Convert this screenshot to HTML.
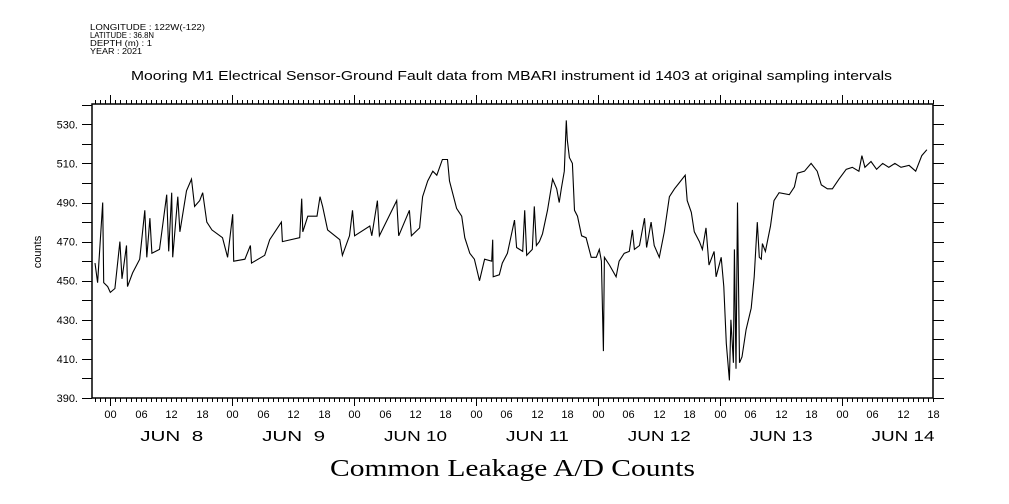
<!DOCTYPE html>
<html><head><meta charset="utf-8"><style>
html,body{margin:0;padding:0;background:#fff;}
svg{display:block;}
text{font-family:"Liberation Sans",sans-serif;fill:#000;}
</style></head><body>
<svg id="chart" width="1009" height="504" viewBox="0 0 1009 504" xmlns="http://www.w3.org/2000/svg">
<g font-size="8.5">
<text x="90" y="30" textLength="115" lengthAdjust="spacingAndGlyphs">LONGITUDE : 122W(-122)</text>
<text x="90" y="38" textLength="64" lengthAdjust="spacingAndGlyphs">LATITUDE : 36.8N</text>
<text x="90" y="46" textLength="62" lengthAdjust="spacingAndGlyphs">DEPTH (m) : 1</text>
<text x="90" y="54" textLength="52" lengthAdjust="spacingAndGlyphs">YEAR : 2021</text>
</g>
<text x="131" y="80" font-size="13" textLength="761" lengthAdjust="spacingAndGlyphs">Mooring M1 Electrical Sensor-Ground Fault data from MBARI instrument id 1403 at original sampling intervals</text>
<text transform="translate(41,252) rotate(-90)" font-size="11" text-anchor="middle">counts</text>
<text x="330" y="476" font-size="24" textLength="365" lengthAdjust="spacingAndGlyphs" style="font-family:'Liberation Serif',serif">Common Leakage A/D Counts</text>
<rect x="92" y="104" width="841" height="294" fill="none" stroke="#000" stroke-width="1.5"/>
<g id="axes"></g>
<polyline id="series" fill="none" stroke="#000" stroke-width="1.1"/>
</svg>
<script>
const hours = [-3.0,-2.5,-1.5,-1.3,-0.5,0,0.9,1.9,2.3,3.2,3.4,4.4,5.8,6.8,7.2,7.8,8.2,9.7,11.1,11.5,12.1,12.3,13.3,13.7,15.0,16.0,16.6,17.6,18.2,19.0,20.0,22.1,23.1,24.1,24.3,26.5,27.6,27.8,30.4,31.4,33.7,33.9,37.3,37.7,37.9,38.9,40.7,41.3,41.8,42.8,45.2,45.7,47.1,47.7,48.1,51.1,51.5,52.6,53.0,56.4,56.8,58.9,59.3,60.9,61.5,62.5,63.5,64.3,65.4,66.4,66.8,68.2,69.2,69.8,70.8,71.7,72.7,73.7,75.1,75.3,75.4,76.6,77.2,78.2,79.6,80.0,81.2,81.6,82.0,83.1,83.5,83.9,84.5,85.1,86.1,87.1,87.9,88.4,88.8,89.4,89.8,90.0,90.4,91.0,91.4,92.0,92.8,93.7,94.7,95.7,96.3,96.7,97.1,97.3,98.3,99.6,100.2,101.2,102.2,102.8,103.2,104.2,105.2,105.6,106.5,107.1,108.1,109.1,110.1,111.1,112.0,113.2,113.6,114.4,115.0,116.0,116.6,117.3,117.9,118.9,119.3,120.3,120.8,121.3,121.9,122.2,122.7,122.9,123.2,123.5,123.9,124.4,125.2,126.2,126.8,127.4,127.8,128.2,128.4,129.0,130.0,130.7,131.7,133.7,134.7,135.3,136.7,138.0,139.2,140.0,141.2,142.2,143.5,144.9,146.1,147.4,148.0,148.6,149.8,150.9,152.1,153.3,154.5,155.7,157.3,158.6,159.8,160.8];
const counts = [459,449,490,449,447,444,446,470,451,468,447,454,461,486,462,482,464,466,494,465,495,462,493,475,496,502,488,491,495,480,476,472,462,484,460,461,468,459,463,471,480,470,472,492,475,483,483,493,488,476,471,463,473,486,473,478,473,491,473,491,473,486,473,477,493,501,506,504,512,512,501,487,483,472,464,461,450,461,460,471,452,453,459,464,481,467,465,486,463,466,488,468,470,474,486,502,497,490,497,506,532,522,513,510,486,483,473,472,462,462,466,460,414,462,458,452,460,464,465,476,466,468,482,467,480,468,462,475,493,497,500,504,491,485,475,470,466,477,458,465,452,462,447,418,399,430,408,466,405,490,408,411,425,436,452,480,462,461,469,465,478,491,495,494,498,505,506,510,506,499,497,497,502,507,508,506,514,508,511,507,510,508,510,508,509,506,514,517];
const yTicks = [390,400,410,420,430,440,450,460,470,480,490,500,510,520,530,540];
const yLabels = [390,410,430,450,470,490,510,530];
const hourLabels = ["00","06","12","18"];
const dayLabels = ["JUN  8","JUN  9","JUN 10","JUN 11","JUN 12","JUN 13","JUN 14"];

const X0=92,X1=933,Y0=104,Y1=398,H0=-3.6,H1=162,V0=390,V1=540.4;
function xs(h){return X0+(h-H0)/(H1-H0)*(X1-X0);}
function ys(v){return Y1-(v-V0)/(V1-V0)*(Y1-Y0);}
const NS="http://www.w3.org/2000/svg";
const ax=document.getElementById('axes');
function line(x1,y1,x2,y2,name){const l=document.createElementNS(NS,'line');l.setAttribute('x1',x1);l.setAttribute('y1',y1);l.setAttribute('x2',x2);l.setAttribute('y2',y2);l.setAttribute('stroke','#000');l.setAttribute('stroke-width','1');


ax.appendChild(l);}
function txt(x,y,s,size,anchor,name){const t=document.createElementNS(NS,'text');t.setAttribute('x',x);t.setAttribute('y',y);t.setAttribute('font-size',size);t.setAttribute('text-anchor',anchor);t.textContent=s;


ax.appendChild(t);}
yTicks.forEach(v=>{if(v>V1)return;const y=Math.round(ys(v))+0.5;line(82,y,X0,y,'y-tick-left');line(X1,y,944,y,'y-tick-right');});
yLabels.forEach(v=>{txt(78,ys(v)+4,v+'.',11,'end','y-tick-label');});
for(let h=Math.ceil(H0);h<=H1;h++){const x=Math.round(xs(h))+0.5;const major=((h%24)+24)%24===0;
line(x,Y0,x,Y0-(major?9:4),'x-tick-top');line(x,Y1,x,Y1+(major?8:4),'x-tick-bottom');
if(h%6===0){txt(x,418,hourLabels[(((h/6)%4)+4)%4],11,'middle','hour-label');}}
dayLabels.forEach((d,i)=>{const t=document.createElementNS(NS,'text');t.setAttribute('x',xs(i*24+12)-31);t.setAttribute('y',441);t.setAttribute('font-size',15);t.setAttribute('textLength',63);t.setAttribute('lengthAdjust','spacingAndGlyphs');t.setAttribute('xml:space','preserve');t.style.whiteSpace='pre';t.textContent=d;


ax.appendChild(t);});
document.getElementById('series').setAttribute('points',hours.map((h,i)=>xs(h).toFixed(1)+','+ys(counts[i]).toFixed(1)).join(' '));
</script>
</body></html>
